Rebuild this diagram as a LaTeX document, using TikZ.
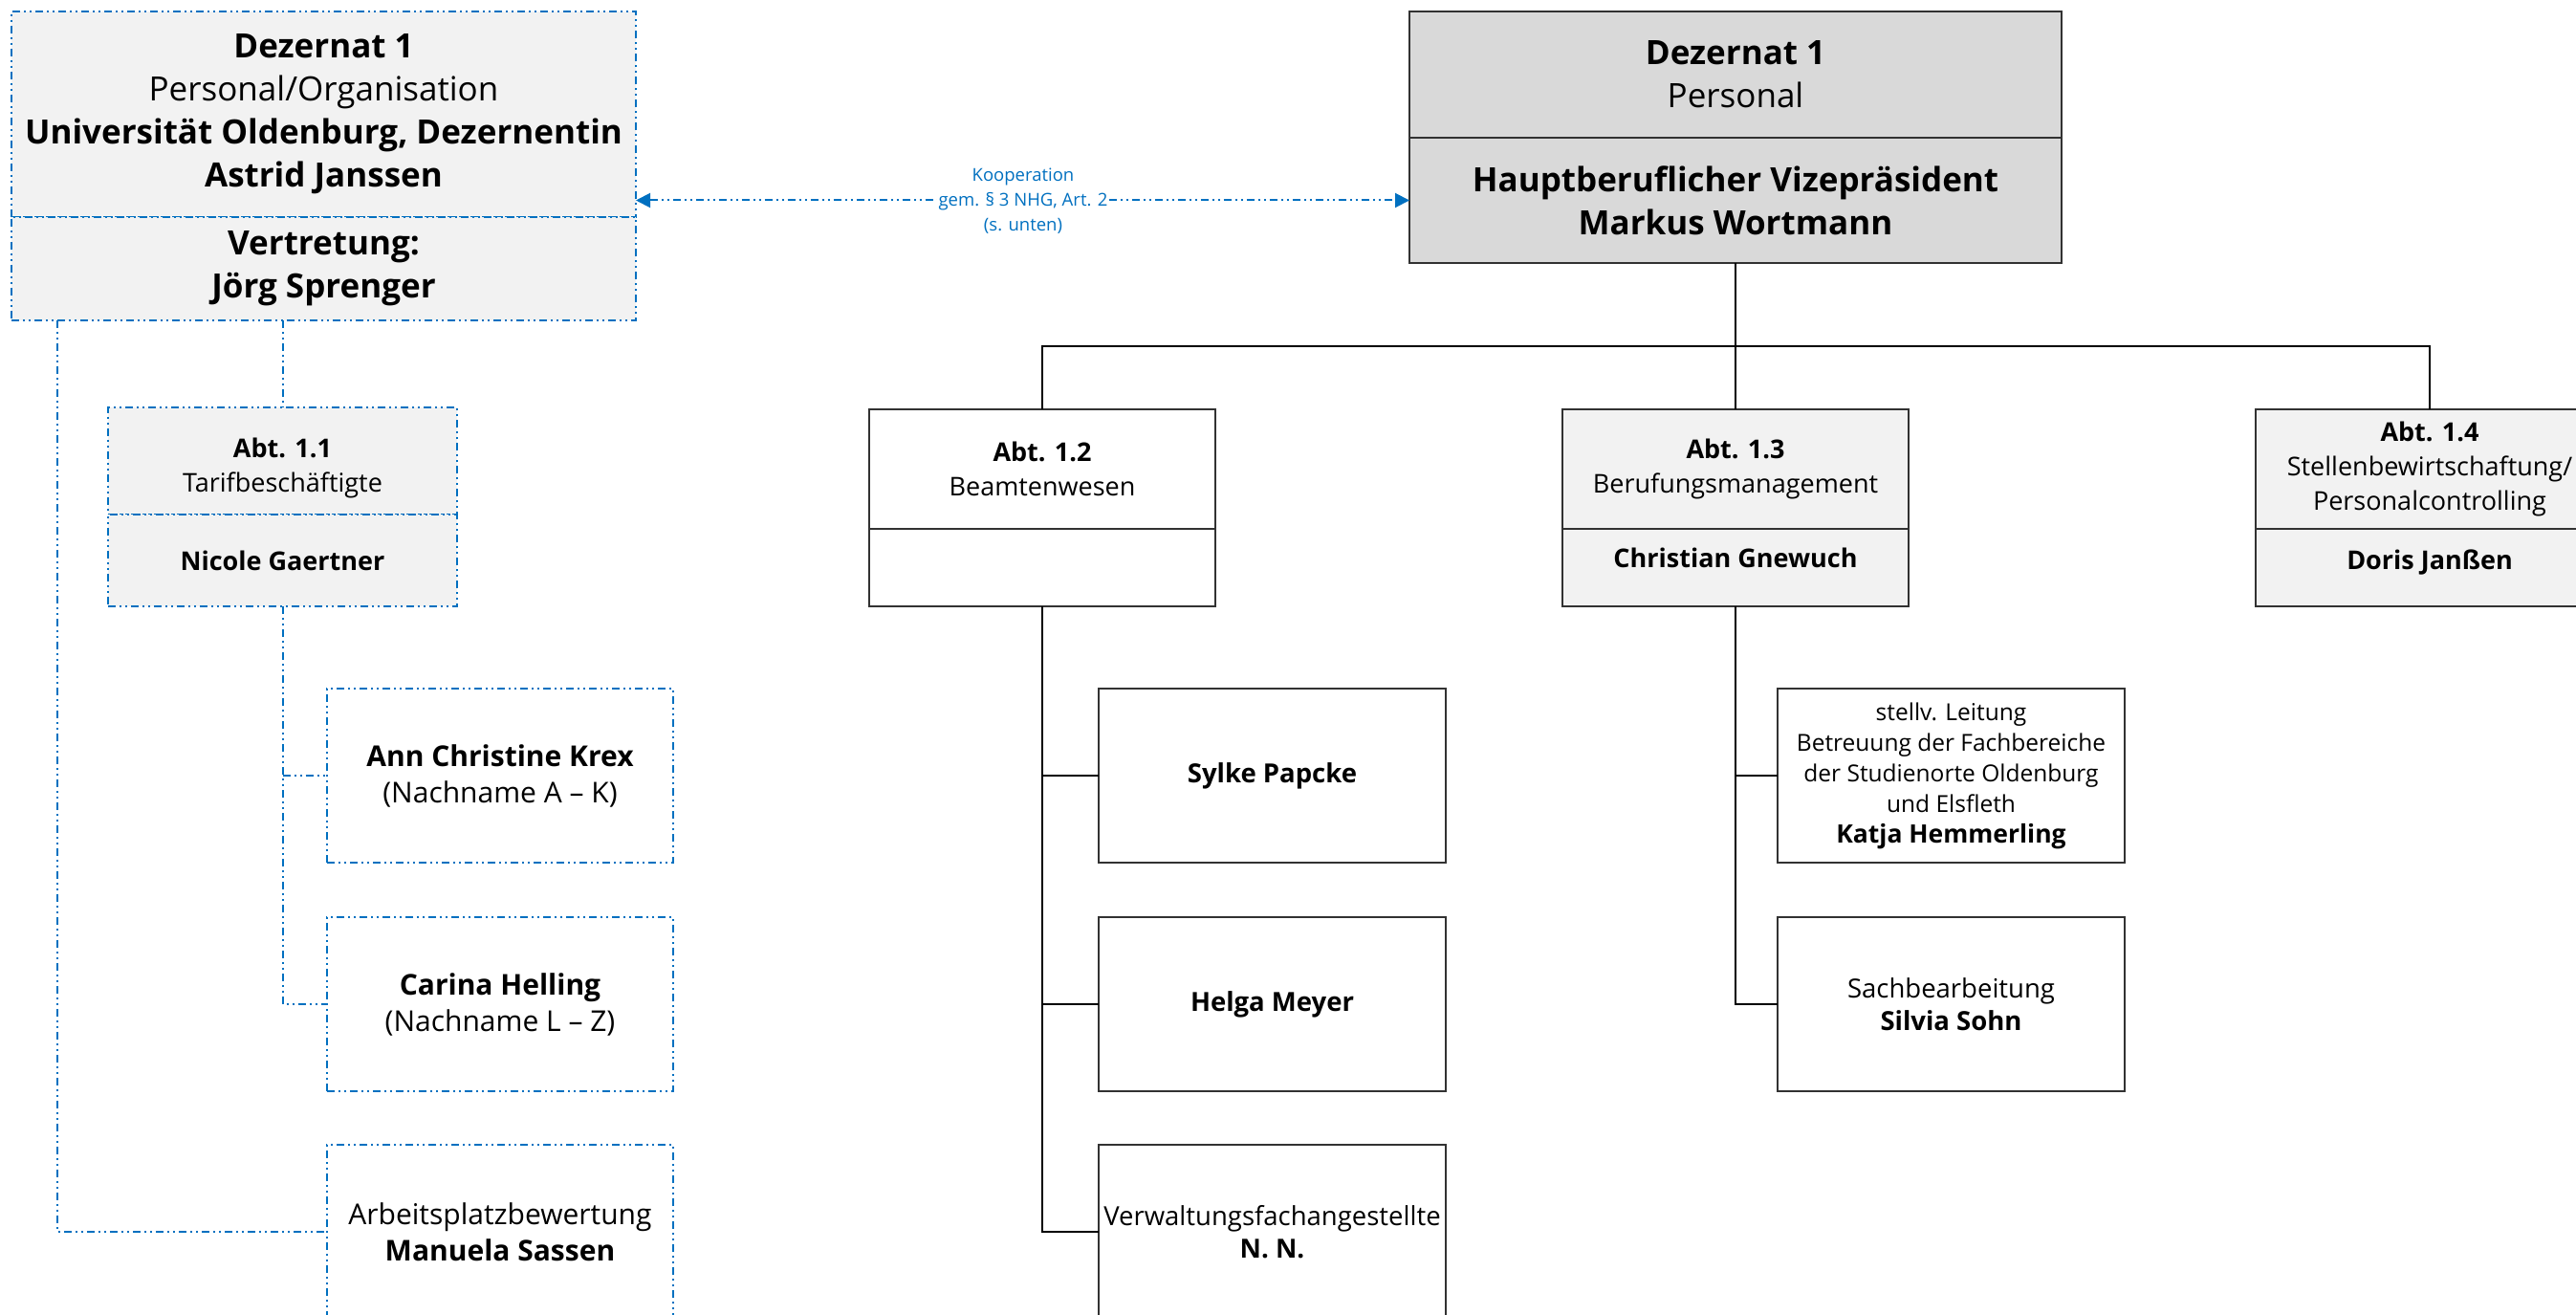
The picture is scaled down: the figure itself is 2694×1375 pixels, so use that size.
\documentclass[tikz,border=0pt]{standalone}
\usepackage{fontspec}
\setmainfont{Open Sans}
\usetikzlibrary{arrows.meta}
\definecolor{koop}{RGB}{0,112,192}
\definecolor{lg}{RGB}{242,242,242}
\definecolor{mg}{RGB}{217,217,217}
\definecolor{bd}{RGB}{50,50,50}
\newcommand{\myfs}[2]{\fontsize{#1pt}{#2pt}\selectfont}
\begin{document}
\begin{tikzpicture}[x=1pt,y=-1pt,
  base/.style={anchor=north west,inner sep=0pt,outer sep=0pt,align=center,text=black},
  bluedash/.style={line width=2pt,dash pattern=on 8pt off 4pt on 2pt off 4pt on 2pt off 4pt},
  bluebox/.style={base,draw=koop,bluedash},
  blackbox/.style={base,draw=bd,line width=2.2pt},
  bline/.style={draw=koop,bluedash},
  tline/.style={draw=black,line width=2pt},
  bigtxt/.style={font=\myfs{35}{45}},
  midtxt/.style={font=\myfs{27}{36}},
  subtxt/.style={font=\myfs{30}{38}},
  rsubtxt/.style={font=\myfs{27.5}{34}},
  smalltxt/.style={font=\myfs{24.5}{32}},
  koopfont/.style={font=\myfs{18.5}{26}}
]
\useasboundingbox (0,0) rectangle (2694,1375);
\clip (0,0) rectangle (2694,1375);

% left main box
\node[bluebox,fill=lg,bigtxt,minimum width=653pt,minimum height=215pt] (lbTop) at (12,12)
  {{\bfseries Dezernat 1}\\Personal/Organisation\\{\bfseries Universität Oldenburg, Dezernentin}\\{\bfseries Astrid Janssen}};
\node[bluebox,fill=lg,bigtxt,minimum width=653pt,minimum height=108pt] (lbBot) at (12,227)
  {\bfseries Vertretung:\\\bfseries Jörg Sprenger};

% right main box
\node[blackbox,fill=mg,bigtxt,minimum width=682pt,minimum height=132pt] (rbTop) at (1474,12)
  {{\bfseries Dezernat 1}\\Personal};
\node[blackbox,fill=mg,bigtxt,minimum width=682pt,minimum height=131pt] (rbBot) at (1474,144)
  {\bfseries Hauptberuflicher Vizepräsident\\\bfseries Markus Wortmann};

% Abt 1.1
\node[bluebox,fill=lg,midtxt,minimum width=365pt,minimum height=112pt] (a11top) at (113,426)
  {\rule{0pt}{36pt}{\bfseries Abt. 1.1}\\Tarifbeschäftigte};
\node[bluebox,fill=lg,midtxt,minimum width=365pt,minimum height=96pt] (a11bot) at (113,538)
  {\bfseries Nicole Gaertner};

% Abt 1.2
\node[blackbox,fill=white,midtxt,minimum width=362pt,minimum height=125pt] (a12top) at (909,428)
  {{\bfseries Abt. 1.2}\\Beamtenwesen};
\node[blackbox,fill=white,midtxt,minimum width=362pt,minimum height=81pt] (a12bot) at (909,553) {};

% Abt 1.3
\node[blackbox,fill=lg,midtxt,minimum width=362pt,minimum height=125pt] (a13top) at (1634,428)
  {{\bfseries Abt. 1.3}\\Berufungsmanagement};
\node[blackbox,fill=lg,midtxt,minimum width=362pt,minimum height=81pt,text depth=20pt] (a13bot) at (1634,553)
  {\bfseries Christian Gnewuch};

% Abt 1.4
\node[blackbox,fill=lg,midtxt,minimum width=364pt,minimum height=125pt] (a14top) at (2359,428)
  {{\bfseries Abt. 1.4}\\Stellenbewirtschaftung/\\Personalcontrolling};
\node[blackbox,fill=lg,midtxt,minimum width=364pt,minimum height=81pt,text depth=16pt] (a14bot) at (2359,553)
  {\bfseries Doris Janßen};

% left sub boxes
\node[bluebox,fill=white,subtxt,minimum width=362pt,minimum height=182pt] (ann) at (342,720)
  {{\bfseries Ann Christine Krex}\\(Nachname A – K)};
\node[bluebox,fill=white,subtxt,minimum width=362pt,minimum height=182pt] (carina) at (342,959)
  {{\bfseries Carina Helling}\\(Nachname L – Z)};
\node[bluebox,fill=white,subtxt,minimum width=362pt,minimum height=182pt] (arb) at (342,1197)
  {Arbeitsplatzbewertung\\{\bfseries Manuela Sassen}};

% Abt 1.2 sub boxes
\node[blackbox,fill=white,rsubtxt,minimum width=363pt,minimum height=182pt] (sylke) at (1149,720)
  {\bfseries Sylke Papcke};
\node[blackbox,fill=white,rsubtxt,minimum width=363pt,minimum height=182pt] (helga) at (1149,959)
  {\bfseries Helga Meyer};
\node[blackbox,fill=white,rsubtxt,minimum width=363pt,minimum height=182pt] (nn) at (1149,1197)
  {Verwaltungsfachangestellte\\{\bfseries N. N.}};

% Abt 1.3 sub boxes
\node[blackbox,fill=white,smalltxt,minimum width=363pt,minimum height=182pt] (katja) at (1859,720)
  {stellv. Leitung\\Betreuung der Fachbereiche\\der Studienorte Oldenburg\\und Elsfleth\\{\bfseries\myfs{26.5}{34}Katja Hemmerling}};
\node[blackbox,fill=white,rsubtxt,minimum width=363pt,minimum height=182pt] (silvia) at (1859,959)
  {Sachbearbeitung\\{\bfseries Silvia Sohn}};

% cooperation arrow
\draw[bline,{Triangle[length=15pt,width=15pt]}-{Triangle[length=15pt,width=15pt]}]
  (lbTop.east |- rbBot.west) -- (rbBot.west);
\node[koopfont,text=koop,fill=white,inner sep=1.5pt,align=center] (koopl) at (1070,210)
  {Kooperation\\gem. § 3 NHG, Art. 2\\(s. unten)};

% black tree
\coordinate (bus) at (1814,362);
\draw[tline] (rbBot.south) -- (a13top.north);
\draw[tline] (a12top.north) |- (bus) -| (a14top.north);
\draw[tline] (a12bot.south) |- (nn.west);
\draw[tline] (a12bot.south |- sylke.west) -- (sylke.west);
\draw[tline] (a12bot.south |- helga.west) -- (helga.west);
\draw[tline] (a13bot.south) |- (silvia.west);
\draw[tline] (a13bot.south |- katja.west) -- (katja.west);

% blue tree
\draw[bline] (a11top.north |- lbBot.south) -- (a11top.north);
\draw[bline] (a11bot.south) |- (carina.west);
\draw[bline] (a11bot.south |- ann.west) -- (ann.west);
\draw[bline] ([xshift=48pt]lbBot.south west) |- (arb.west);
\end{tikzpicture}
\end{document}
